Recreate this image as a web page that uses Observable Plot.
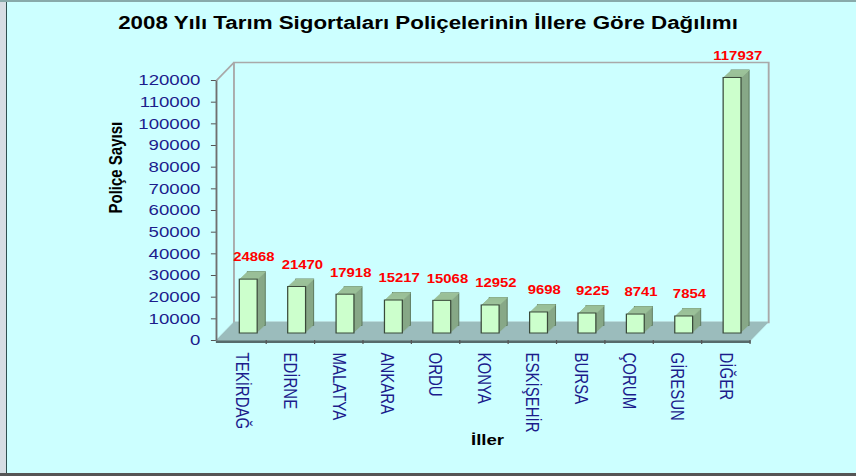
<!DOCTYPE html>
<html>
<head>
<meta charset="utf-8">
<script src="https://cdn.jsdelivr.net/npm/d3@7"></script>
<script src="https://cdn.jsdelivr.net/npm/@observablehq/plot@0.6"></script>
<style>
  body { margin: 0; background: #ccffff; }
  #page { position: relative; width: 856px; height: 476px; background: #ccffff; overflow: hidden; font-family: "Liberation Sans", Arial, sans-serif; }
  .edge { position: absolute; }
  #chart { position: absolute; left: 0; top: 0; width: 690px; transform: scaleX(1.2406); transform-origin: 0 0; }
  #title { height: 44px; box-sizing: border-box; padding-top: 13px; text-align: center; font-weight: bold; font-size: 18px; line-height: 20px; color: #000; }
</style>
</head>
<body>
<div id="page">
  <div class="edge" style="left:0;top:0;width:6px;height:476px;background:#d6dde3"></div>
  <div class="edge" style="left:6px;top:0;width:1px;height:476px;background:#2f4f4f"></div>
  <div class="edge" style="left:0;top:0;width:856px;height:2px;background:#88aaaa"></div>
  <div class="edge" style="left:0;top:473px;width:856px;height:3px;background:#555555"></div>
  <div id="chart"><div id="title"></div></div>
</div>
<script>
const titleText = "2008 Yılı Tarım Sigortaları Poliçelerinin İllere Göre Dağılımı";
const yLabel = "Poliçe Sayısı";
const xLabel = "İller";
const cities = ["TEKİRDAĞ", "EDİRNE", "MALATYA", "ANKARA", "ORDU", "KONYA", "ESKİŞEHİR", "BURSA", "ÇORUM", "GİRESUN", "DİĞER"];
const counts = [24868, 21470, 17918, 15217, 15068, 12952, 9698, 9225, 8741, 7854, 117937];
const yTicks = [0, 10000, 20000, 30000, 40000, 50000, 60000, 70000, 80000, 90000, 100000, 110000, 120000];

const data = cities.map((city, i) => ({city, value: counts[i]}));
document.getElementById("title").textContent = titleText;

const W = 690, H = 432, mt = 36, mb = 136, ml = 174, mr = 85;
const frameH = H - mt - mb;
const step = (W - ml - mr) / cities.length;
const inset = 12.3;
const depthX = 14.1, depthY = 18;      // back wall / floor depth
const barDX = 5.6, barDY = 7;          // bar position within depth
const sideX = 6.5, sideY = 7.5, N = 8; // bar extrusion
const navy = "#1c1c8c";

const diagSymbol = {draw(ctx) { ctx.moveTo(0, 0); ctx.lineTo(depthX, -depthY); }};
const vlineSymbol = {draw(ctx) { ctx.moveTo(0, 0); ctx.lineTo(0, -frameH); }};

const marks = [];
// back wall
marks.push(Plot.frame({stroke: "#a9a9a9", strokeWidth: 1.5, dx: depthX, dy: -depthY}));
marks.push(Plot.dot([0], {x: null, y: null, frameAnchor: "top-left", symbol: diagSymbol, stroke: "#a9a9a9", strokeWidth: 1.5, fill: "none"}));
// floor
for (let k = 0; k <= depthY; k++) {
  marks.push(Plot.ruleY([0], {stroke: "#9bbcbc", strokeWidth: 1.6, dx: k * depthX / depthY, dy: -k}));
}
marks.push(Plot.ruleY([0], {stroke: "#566b6b", strokeWidth: 2.5, dy: 1.2}));
// y axis line
marks.push(Plot.dot([0], {x: null, y: null, frameAnchor: "bottom-left", symbol: vlineSymbol, stroke: "#707070", strokeWidth: 1.5, fill: "none"}));
// bars: extrusion (side + top), then front face
for (let k = N; k >= 1; k--) {
  marks.push(Plot.barY(data, {x: "city", y: "value", insetLeft: inset, insetRight: inset,
    fill: "#87a887", stroke: k === N ? "#5c785c" : "none", strokeWidth: 0.8,
    dx: barDX + k * sideX / N, dy: -barDY - k * sideY / N}));
}
for (let k = 1; k <= N; k++) {
  marks.push(Plot.tickY(data, {x: "city", y: "value", insetLeft: inset, insetRight: inset,
    stroke: "#9cc29a", strokeWidth: 1.3, dx: barDX + k * sideX / N, dy: -barDY - k * sideY / N}));
}
marks.push(Plot.barY(data, {x: "city", y: "value", insetLeft: inset, insetRight: inset,
  fill: "#ccffcc", stroke: "#3a4a3a", strokeWidth: 1, dx: barDX, dy: -barDY}));
// value labels
marks.push(Plot.text(data, {x: "city", y: "value", text: d => String(d.value), fill: "#ff0000",
  fontWeight: "bold", fontSize: 12, dx: 9.7, dy: -29}));
// axes
marks.push(Plot.axisY({ticks: yTicks, tickSize: 4, tickPadding: 9, tickFormat: d => String(d),
  stroke: "#555", fill: navy, fontSize: 15, label: null}));
marks.push(Plot.axisX({tickSize: 4, tickFormat: () => "", dx: step / 2, stroke: "#555", label: null}));
marks.push(Plot.axisX({tickSize: 0, tickPadding: 12, tickRotate: 90, fill: navy, fontSize: 15, label: null}));
// axis titles
marks.push(Plot.text([yLabel], {x: null, y: null, text: d => d, frameAnchor: "left", rotate: -90,
  dx: -81, dy: 3, fontWeight: "bold", fontSize: 15, fill: "#000"}));
marks.push(Plot.text([xLabel], {x: null, y: null, text: d => d, frameAnchor: "bottom",
  dx: 3, dy: 104, fontWeight: "bold", fontSize: 15, fill: "#000"}));

const plot = Plot.plot({
  width: W, height: H,
  marginTop: mt, marginBottom: mb, marginLeft: ml, marginRight: mr,
  style: {fontFamily: "'Liberation Sans', Arial, sans-serif", background: "none", overflow: "visible"},
  x: {type: "band", domain: cities, padding: 0, axis: null},
  y: {domain: [0, 120000], axis: null},
  marks
});
document.getElementById("chart").appendChild(plot);
</script>
</body>
</html>
